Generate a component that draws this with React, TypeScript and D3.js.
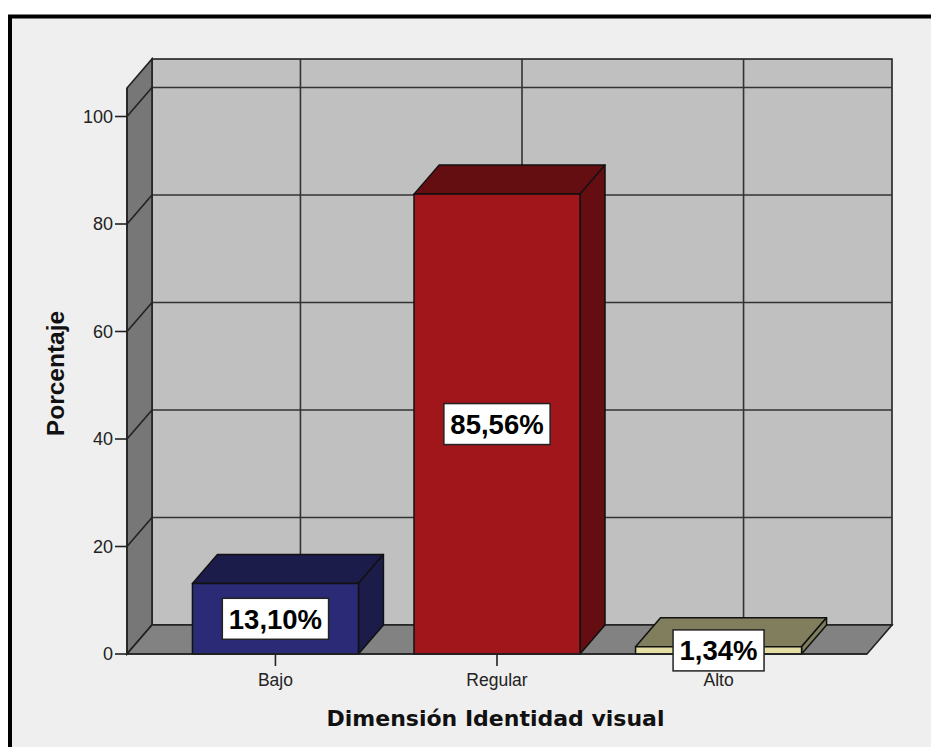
import React from "react";
import * as d3 from "d3";

// Category labels and percentages
const categories = ["Bajo", "Regular", "Alto"];
const percentages = [13.1, 85.56, 1.34];
const valueLabels = ["13,10%", "85,56%", "1,34%"];
const yTicks = [0, 20, 40, 60, 80, 100];

// Face colours per bar: front, top/side
const frontColors = ["#2a2a77", "#a1161b", "#e4dda4"];
const shadeColors = ["#1c1c4b", "#640e12", "#807e5c"];

const W = 931;
const H = 747;

// Oblique depth of the 3D box
const DX = 25;
const DY = -29;

const FONT = "'Liberation Sans', Arial, sans-serif";

// Approximate advance widths (Arial bold) for the value labels
const charW: Record<string, number> = { ",": 0.278, "%": 0.889 };
function textWidth(s: string, size: number) {
  let w = 0;
  for (const c of s) w += charW[c] ?? 0.556;
  return w * size;
}

export default function App() {
  const x = d3.scalePoint<string>().domain(categories).range([127, 867]).padding(0.67);
  const y = d3.scaleLinear().domain([0, 100]).range([654, 116.5]);
  const yTop = 105.3;
  const x0 = 127;
  const x1 = 867;
  const barW = 166;

  const poly = (pts: [number, number][]) => pts.map((p) => p.join(",")).join(" ");

  const labelSize = 27.5;

  return (
    <svg
      width={W}
      height={H}
      style={{ position: "absolute", left: 0, top: 0, display: "block" }}
    >
      <rect x={0} y={0} width={W} height={H} fill="#ffffff" />
      <rect x={10} y={16.5} width={1000} height={1000} fill="#efefef" stroke="#000" strokeWidth={4} />

      {/* back wall */}
      <rect
        x={x0 + DX}
        y={y(yTop) + DY}
        width={x1 - x0}
        height={y(0) - y(yTop)}
        fill="#c0c0c0"
        stroke="#222"
        strokeWidth={1.6}
      />
      {yTicks.map((t) => (
        <line key={"bg" + t} x1={x0 + DX} x2={x1 + DX} y1={y(t) + DY} y2={y(t) + DY} stroke="#333" strokeWidth={1.6} />
      ))}
      {categories.map((c) => (
        <line
          key={"bv" + c}
          x1={(x(c) as number) + DX}
          x2={(x(c) as number) + DX}
          y1={y(yTop) + DY}
          y2={y(0) + DY}
          stroke="#333"
          strokeWidth={1.6}
        />
      ))}

      {/* left wall */}
      <polygon
        points={poly([
          [x0, y(0)],
          [x0, y(yTop)],
          [x0 + DX, y(yTop) + DY],
          [x0 + DX, y(0) + DY],
        ])}
        fill="#777777"
        stroke="#222"
        strokeWidth={1.6}
      />
      {yTicks.map((t) => (
        <line key={"lw" + t} x1={x0} y1={y(t)} x2={x0 + DX} y2={y(t) + DY} stroke="#222" strokeWidth={1.6} />
      ))}

      {/* floor */}
      <polygon
        points={poly([
          [x0, y(0)],
          [x1, y(0)],
          [x1 + DX, y(0) + DY],
          [x0 + DX, y(0) + DY],
        ])}
        fill="#828282"
        stroke="#222"
        strokeWidth={1.6}
      />

      {/* bars */}
      {categories.map((c, i) => {
        const cx = x(c) as number;
        const l = cx - barW / 2;
        const r = cx + barW / 2;
        const top = y(percentages[i]);
        const base = y(0);
        return (
          <g key={"bar" + c} stroke="#111" strokeWidth={1.5} strokeLinejoin="round">
            <polygon
              points={poly([
                [l, top],
                [r, top],
                [r + DX, top + DY],
                [l + DX, top + DY],
              ])}
              fill={shadeColors[i]}
            />
            <polygon
              points={poly([
                [r, top],
                [r, base],
                [r + DX, base + DY],
                [r + DX, top + DY],
              ])}
              fill={shadeColors[i]}
            />
            <rect x={l} y={top} width={barW} height={base - top} fill={frontColors[i]} />
          </g>
        );
      })}

      {/* axis lines */}
      <line x1={x0} x2={x0} y1={y(yTop)} y2={y(0)} stroke="#222" strokeWidth={1.6} />
      <line x1={x0} x2={x1} y1={y(0)} y2={y(0)} stroke="#222" strokeWidth={1.6} />

      {/* y ticks */}
      {yTicks.map((t) => (
        <g key={"yt" + t}>
          <line x1={115} x2={x0} y1={y(t)} y2={y(t)} stroke="#222" strokeWidth={1.6} />
          <text
            x={113}
            y={y(t)}
            dy="0.36em"
            textAnchor="end"
            fontFamily={FONT}
            fontSize={18}
            fill="#222"
          >
            {t}
          </text>
        </g>
      ))}

      {/* x ticks */}
      {categories.map((c) => (
        <g key={"xt" + c}>
          <line x1={x(c)} x2={x(c)} y1={y(0)} y2={y(0) + 12} stroke="#222" strokeWidth={1.6} />
          <text x={x(c)} y={686} textAnchor="middle" fontFamily={FONT} fontSize={17.5} fill="#222">
            {c}
          </text>
        </g>
      ))}

      {/* value labels */}
      {categories.map((c, i) => {
        const cx = x(c) as number;
        const cy = (y(percentages[i]) + y(0)) / 2;
        const tw = textWidth(valueLabels[i], labelSize);
        const bw = tw + 13;
        const bh = 41;
        return (
          <g key={"vl" + c}>
            <rect x={cx - bw / 2} y={cy - bh / 2} width={bw} height={bh} fill="#ffffff" stroke="#222" strokeWidth={1.5} />
            <text
              x={cx}
              y={cy}
              dy="0.36em"
              textAnchor="middle"
              fontFamily={FONT}
              fontWeight="bold"
              fontSize={labelSize}
              fill="#000"
            >
              {valueLabels[i]}
            </text>
          </g>
        );
      })}

      {/* axis titles */}
      <text
        transform={`translate(64, 373.5) rotate(-90)`}
        textAnchor="middle"
        fontFamily={FONT}
        fontWeight="bold"
        fontSize={24.5}
        fill="#111"
      >
        Porcentaje
      </text>
      <text
        x={495.5}
        y={726}
        textAnchor="middle"
        fontFamily="'DejaVu Sans', Verdana, sans-serif"
        fontWeight="bold"
        fontSize={22}
        fill="#111"
      >
        Dimensión Identidad visual
      </text>
    </svg>
  );
}
